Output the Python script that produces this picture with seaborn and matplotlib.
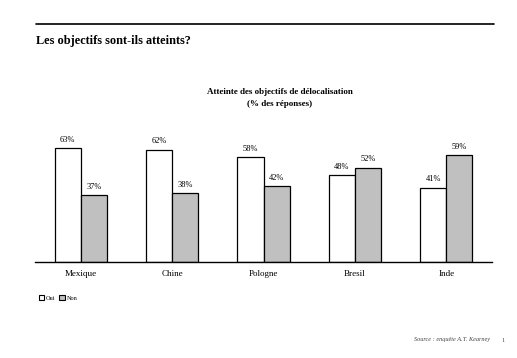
import matplotlib
matplotlib.use("Agg")
import matplotlib.pyplot as plt
import seaborn as sns
import pandas as pd

pays = ["Mexique", "Chine", "Pologne", "Bresil", "Inde"]
oui = [63, 62, 58, 48, 41]
non = [37, 38, 42, 52, 59]
reponses = ["Oui", "Non"]
couleurs = ["#FFFFFF", "#C0C0C0"]

df = pd.DataFrame({
    "pays": pays * 2,
    "reponse": [reponses[0]] * len(pays) + [reponses[1]] * len(pays),
    "valeur": oui + non,
})

sns.set_style("white")
plt.rcParams["font.family"] = ["Liberation Serif", "DejaVu Serif"]
plt.rcParams["text.color"] = "black"
plt.rcParams["xtick.color"] = "black"
plt.rcParams["axes.edgecolor"] = "black"

fig = plt.figure(figsize=(5.17, 3.58), dpi=100)
ax = fig.add_axes([35 / 517, (358 - 262) / 358, 457 / 517, 127 / 358])

sns.barplot(data=df, x="pays", y="valeur", hue="reponse", palette=couleurs,
            edgecolor="black", linewidth=0.9, width=0.57, gap=0, ax=ax,
            legend=False)

for cont in ax.containers:
    ax.bar_label(cont, fmt="%d%%", padding=3, fontsize=6, color="black")

ax.set_xlim(-0.5, 4.5)
ax.set_ylim(0, 70)
ax.set_xlabel("")
ax.set_ylabel("")
ax.set_yticks([])
ax.tick_params(axis="x", length=0, labelsize=6.5, pad=6, labelcolor="black")
for s in ["top", "left", "right"]:
    ax.spines[s].set_visible(False)
ax.spines["bottom"].set_linewidth(1)

# ligne du haut et titres
fig.add_artist(plt.Line2D([36 / 517, 494 / 517], [1 - 24 / 358, 1 - 24 / 358],
                          color="black", linewidth=1.2))
fig.text(36 / 517, 1 - 41 / 358, "Les objectifs sont-ils atteints?",
         fontsize=8.8, fontweight="bold", va="center", ha="left")
fig.text(280 / 517, 1 - 92 / 358, "Atteinte des objectifs de délocalisation",
         fontsize=6.5, fontweight="bold", ha="center", va="center")
fig.text(280 / 517, 1 - 104 / 358, "(% des réponses)",
         fontsize=6.5, fontweight="bold", ha="center", va="center")

# legende
handles = [plt.Rectangle((0, 0), 1, 1, facecolor=c, edgecolor="black", linewidth=0.8)
           for c in couleurs]
fig.legend(handles, reponses, loc="center left",
           bbox_to_anchor=(33 / 517, 1 - 298 / 358), ncol=2, frameon=False,
           fontsize=4.5, handlelength=0.9, handleheight=0.9,
           handletextpad=0.3, columnspacing=0.6)

fig.text(490 / 517, 1 - 340 / 358, "Source : enquête A.T. Kearney",
         fontsize=4.5, style="italic", ha="right", va="center", color="#444444")
fig.text(503 / 517, 1 - 340 / 358, "1", fontsize=4.5, ha="center",
         va="center", color="#444444")

fig.savefig("out.png", dpi=100)
